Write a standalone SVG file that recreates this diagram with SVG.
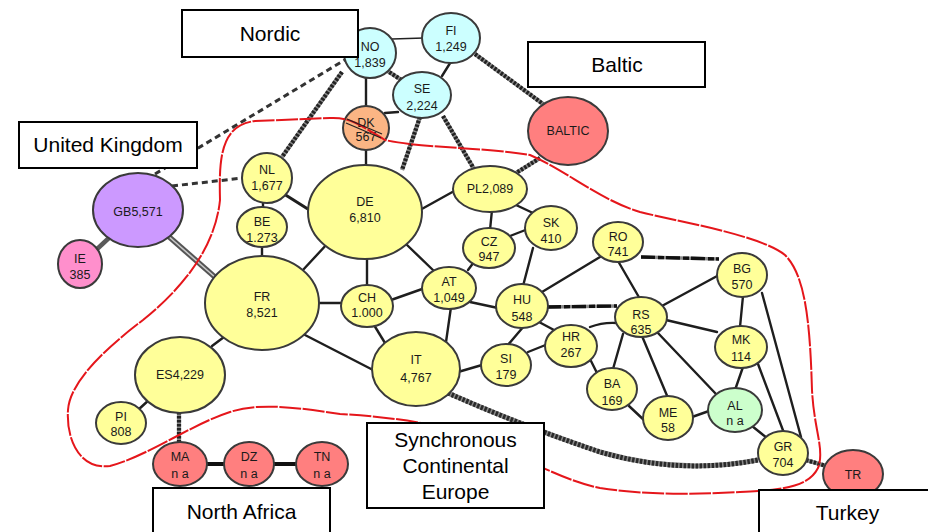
<svg xmlns="http://www.w3.org/2000/svg" xmlns:xlink="http://www.w3.org/1999/xlink" width="928" height="532" viewBox="0 0 928 532">
<style>
.ac{stroke:#1e1e1e;stroke-width:2.4;fill:none;stroke-linecap:round}
.thin{stroke:#222;stroke-width:1.6;fill:none}
.dcb{stroke:#8a8a8a;stroke-width:4.2;fill:none}
.dct{stroke:#222;stroke-width:4.2;fill:none;stroke-dasharray:2.5 1.5}
.dcb2{stroke:#8a8a8a;stroke-width:3.4;fill:none}
.dct2{stroke:#111;stroke-width:3.4;fill:none;stroke-dasharray:14 3 6 2}
.dcb3{stroke:#8a8a8a;stroke-width:5;fill:none}
.dct3{stroke:#2a2a2a;stroke-width:5;fill:none;stroke-dasharray:2.5 1.5}
.bold{stroke:#111;stroke-width:4;fill:none}
.gray{stroke:#5a5a5a;stroke-width:4.5;fill:none}
.dblo{stroke:#555;stroke-width:5.5;fill:none}
.dbli{stroke:#c8c8c8;stroke-width:1.6;fill:none}
.dash{stroke:#333;stroke-width:3;fill:none;stroke-dasharray:6 4}
.n{stroke:#3a3a3a;stroke-width:2}
.y{fill:#ffff99}.c{fill:#ccffff}.o{fill:#fbb584}.r{fill:#ff7f7f}.p{fill:#cc99ff}.k{fill:#ff8fcc}.g{fill:#ccffcc}
.t{font-family:"Liberation Sans",Arial,sans-serif;font-size:12.5px;fill:#1a1a1a;text-anchor:middle}
.box{fill:#fff;stroke:#000;stroke-width:2}
.bt{font-family:"Liberation Sans",Arial,sans-serif;font-size:21px;fill:#000;text-anchor:middle}
.sce{fill:none;stroke:#e5161b;stroke-width:2;stroke-dasharray:22 1.5}
</style>
<defs>
<g id="dcl">
<line x1="342" y1="72" x2="282" y2="157"/>
<line x1="386" y1="70" x2="403" y2="81"/>
<line x1="475" y1="54" x2="543" y2="104"/>
<line x1="420" y1="117" x2="402" y2="170"/>
<line x1="443" y1="116" x2="474" y2="169"/>
<line x1="540" y1="158" x2="516" y2="173"/>
<line x1="179" y1="412" x2="179" y2="443"/>
<line x1="806" y1="460" x2="826" y2="466"/>
</g>
<g id="dcl2">
<line x1="547" y1="307" x2="617" y2="306"/>
<line x1="641" y1="257" x2="719" y2="259"/>
</g>
<path id="dcl3" d="M448,393 Q520,425 600,452 Q680,475 758,460"/>
</defs>
<g id="connectors">
<line class="thin" x1="392" y1="39" x2="424" y2="38"/>
<line class="ac" x1="452" y1="60" x2="442" y2="76"/>
<line class="ac" x1="366" y1="76" x2="366" y2="108"/>
<line class="ac" x1="385" y1="113" x2="398" y2="112"/>
<line class="ac" x1="366" y1="148" x2="366" y2="167"/>
<line class="ac" x1="263" y1="202" x2="263" y2="208"/>
<line class="ac" x1="262" y1="245" x2="262" y2="258"/>
<line class="ac" x1="284" y1="194" x2="311" y2="211" style="stroke-width:3"/>
<line class="ac" x1="328" y1="243" x2="302" y2="271"/>
<line class="ac" x1="367" y1="257" x2="367" y2="287"/>
<line class="ac" x1="406" y1="244" x2="435" y2="272"/>
<line class="ac" x1="420" y1="210" x2="456" y2="190"/>
<line class="ac" x1="492" y1="210" x2="490" y2="230"/>
<line class="ac" x1="516" y1="205" x2="533" y2="213"/>
<line class="ac" x1="510" y1="236" x2="528" y2="229"/>
<line class="ac" x1="474" y1="262" x2="468" y2="270"/>
<line class="ac" x1="533" y1="248" x2="523" y2="286"/>
<line class="ac" x1="470" y1="302" x2="498" y2="308"/>
<line class="ac" x1="451" y1="307" x2="446" y2="342"/>
<line class="ac" x1="391" y1="300" x2="425" y2="288"/>
<line class="ac" x1="374" y1="325" x2="385" y2="343"/>
<line class="ac" x1="318" y1="303" x2="343" y2="303"/>
<line class="ac" x1="305" y1="335" x2="375" y2="371"/>
<line class="ac" x1="212" y1="346" x2="224" y2="337"/>
<line class="ac" x1="138" y1="410" x2="150" y2="399"/>
<line class="ac" x1="458" y1="372" x2="482" y2="365"/>
<line class="ac" x1="507" y1="346" x2="524" y2="326"/>
<line class="ac" x1="528" y1="352" x2="548" y2="344"/>
<line class="ac" x1="539" y1="322" x2="554" y2="330"/>
<line class="ac" x1="542" y1="292" x2="600" y2="257"/>
<path class="ac" d="M590,327 Q603,322 617,323"/>
<line class="ac" x1="591" y1="361" x2="597" y2="373"/>
<line class="ac" x1="623" y1="334" x2="613" y2="369"/>
<line class="ac" x1="642" y1="336" x2="668" y2="398"/>
<line class="ac" x1="657" y1="332" x2="716" y2="394"/>
<line class="ac" x1="618" y1="261" x2="640" y2="299"/>
<line class="ac" x1="660" y1="307" x2="719" y2="275"/>
<line class="ac" x1="666" y1="320" x2="717" y2="332"/>
<line class="ac" x1="743" y1="296" x2="740" y2="327"/>
<line class="ac" x1="762" y1="293" x2="801" y2="437"/>
<line class="ac" x1="758" y1="364" x2="784" y2="433"/>
<line class="ac" x1="743" y1="367" x2="735" y2="390"/>
<line class="ac" x1="752" y1="426" x2="767" y2="438"/>
<line class="ac" x1="692" y1="417" x2="709" y2="411"/>
<line class="ac" x1="629" y1="406" x2="645" y2="421"/>
<use xlink:href="#dcl" class="dcb"/>
<use xlink:href="#dcl" class="dct"/>
<use xlink:href="#dcl2" class="dcb2"/>
<use xlink:href="#dcl2" class="dct2"/>
<use xlink:href="#dcl3" class="dcb3"/>
<use xlink:href="#dcl3" class="dct3"/>
<line class="bold" x1="205" y1="464" x2="226" y2="464"/>
<line class="bold" x1="272" y1="464" x2="298" y2="464"/>
<line class="gray" x1="110" y1="237" x2="96" y2="250"/>
<line class="dblo" x1="167" y1="235" x2="216" y2="278"/>
<line class="dbli" x1="167" y1="235" x2="216" y2="278"/>
<line class="dash" x1="155" y1="174" x2="348" y2="58"/>
<line class="dash" x1="172" y1="186" x2="243" y2="178"/>
</g>
<g id="node-NO"><ellipse class="n c" cx="370" cy="53" rx="26" ry="25"/><text class="t" x="370" y="51">NO</text><text class="t" x="370" y="67">1,839</text></g>
<g id="node-FI"><ellipse class="n c" cx="451" cy="38" rx="29" ry="25"/><text class="t" x="451" y="35">FI</text><text class="t" x="451" y="51">1,249</text></g>
<g id="node-SE"><ellipse class="n c" cx="422" cy="95" rx="29" ry="23"/><text class="t" x="422" y="93">SE</text><text class="t" x="422" y="110">2,224</text></g>
<g id="node-DK"><ellipse class="n o" cx="366" cy="128" rx="23" ry="22"/><text class="t" x="366" y="127">DK</text><text class="t" x="366" y="141">567</text></g>
<g id="node-BALTIC"><ellipse class="n r" cx="568" cy="131" rx="40" ry="34"/><text class="t" x="568" y="135">BALTIC</text></g>
<g id="node-NL"><ellipse class="n y" cx="267" cy="178" rx="25" ry="25"/><text class="t" x="267" y="174">NL</text><text class="t" x="267" y="190">1,677</text></g>
<g id="node-BE"><ellipse class="n y" cx="262" cy="227" rx="25" ry="20"/><text class="t" x="262" y="226">BE</text><text class="t" x="262" y="242">1.273</text></g>
<g id="node-DE"><ellipse class="n y" cx="365" cy="212" rx="57" ry="47"/><text class="t" x="365" y="206">DE</text><text class="t" x="365" y="222">6,810</text></g>
<g id="node-PL"><ellipse class="n y" cx="490" cy="189" rx="37" ry="23"/><text class="t" x="490" y="193">PL2,089</text></g>
<g id="node-CZ"><ellipse class="n y" cx="489" cy="248" rx="26" ry="20"/><text class="t" x="489" y="246">CZ</text><text class="t" x="489" y="261">947</text></g>
<g id="node-SK"><ellipse class="n y" cx="551" cy="228" rx="26" ry="22"/><text class="t" x="551" y="227">SK</text><text class="t" x="551" y="243">410</text></g>
<g id="node-RO"><ellipse class="n y" cx="618" cy="242" rx="25" ry="20"/><text class="t" x="618" y="241">RO</text><text class="t" x="618" y="256">741</text></g>
<g id="node-AT"><ellipse class="n y" cx="449" cy="288" rx="27" ry="21"/><text class="t" x="449" y="286">AT</text><text class="t" x="449" y="302">1,049</text></g>
<g id="node-HU"><ellipse class="n y" cx="522" cy="306" rx="26" ry="22"/><text class="t" x="522" y="304">HU</text><text class="t" x="522" y="321">548</text></g>
<g id="node-HR"><ellipse class="n y" cx="571" cy="346" rx="26" ry="21"/><text class="t" x="571" y="341">HR</text><text class="t" x="571" y="357">267</text></g>
<g id="node-SI"><ellipse class="n y" cx="506" cy="365" rx="25" ry="21"/><text class="t" x="506" y="363">SI</text><text class="t" x="506" y="379">179</text></g>
<g id="node-RS"><ellipse class="n y" cx="641" cy="317" rx="26" ry="20"/><text class="t" x="641" y="319">RS</text><text class="t" x="641" y="334">635</text></g>
<g id="node-BG"><ellipse class="n y" cx="742" cy="275" rx="25" ry="22"/><text class="t" x="742" y="273">BG</text><text class="t" x="742" y="289">570</text></g>
<g id="node-MK"><ellipse class="n y" cx="741" cy="347" rx="26" ry="21"/><text class="t" x="741" y="344">MK</text><text class="t" x="741" y="361">114</text></g>
<g id="node-BA"><ellipse class="n y" cx="612" cy="389" rx="25" ry="21"/><text class="t" x="612" y="388">BA</text><text class="t" x="612" y="405">169</text></g>
<g id="node-ME"><ellipse class="n y" cx="668" cy="418" rx="25" ry="22"/><text class="t" x="668" y="417">ME</text><text class="t" x="668" y="432">58</text></g>
<g id="node-AL"><ellipse class="n g" cx="735" cy="410" rx="27" ry="22"/><text class="t" x="735" y="410">AL</text><text class="t" x="735" y="425">n a</text></g>
<g id="node-GR"><ellipse class="n y" cx="783" cy="453" rx="25" ry="22"/><text class="t" x="783" y="451">GR</text><text class="t" x="783" y="467">704</text></g>
<g id="node-TR"><ellipse class="n r" cx="853" cy="474" rx="30" ry="24"/><text class="t" x="853" y="479">TR</text></g>
<g id="node-CH"><ellipse class="n y" cx="367" cy="306" rx="26" ry="21"/><text class="t" x="367" y="302">CH</text><text class="t" x="367" y="317">1.000</text></g>
<g id="node-IT"><ellipse class="n y" cx="416" cy="369" rx="44" ry="37"/><text class="t" x="416" y="364">IT</text><text class="t" x="416" y="382">4,767</text></g>
<g id="node-FR"><ellipse class="n y" cx="262" cy="303" rx="57" ry="47"/><text class="t" x="262" y="301">FR</text><text class="t" x="262" y="317">8,521</text></g>
<g id="node-ES"><ellipse class="n y" cx="180" cy="375" rx="45" ry="38"/><text class="t" x="180" y="379">ES4,229</text></g>
<g id="node-PI"><ellipse class="n y" cx="121" cy="423" rx="25" ry="21"/><text class="t" x="121" y="421">PI</text><text class="t" x="121" y="436">808</text></g>
<g id="node-MA"><ellipse class="n r" cx="180" cy="464" rx="27" ry="22"/><text class="t" x="180" y="461">MA</text><text class="t" x="180" y="478">n a</text></g>
<g id="node-DZ"><ellipse class="n r" cx="249" cy="464" rx="25" ry="22"/><text class="t" x="249" y="461">DZ</text><text class="t" x="249" y="478">n a</text></g>
<g id="node-TN"><ellipse class="n r" cx="322" cy="464" rx="26" ry="22"/><text class="t" x="322" y="461">TN</text><text class="t" x="322" y="478">n a</text></g>
<g id="node-GB"><ellipse class="n p" cx="138" cy="210" rx="45" ry="37"/><text class="t" x="138" y="216">GB5,571</text></g>
<g id="node-IE"><ellipse class="n k" cx="80" cy="264" rx="22" ry="24"/><text class="t" x="80" y="263">IE</text><text class="t" x="80" y="279">385</text></g>
<g id="region-SCE">
<path class="sce" d="M220,200 C219,160 220,125 255,121 L330,118 C350,117 360,125 385,140 C420,148 480,147 530,155 C565,170 600,200 640,212 C680,222 760,235 785,255 C805,275 810,320 812,390 C814,430 825,450 818,468 C808,488 780,490 740,492 C700,494 650,496 600,488 C560,480 520,455 470,435 C430,422 380,416 340,414 C300,408 260,402 230,412 C190,425 150,455 110,466 C80,470 66,440 68,410 C70,380 110,345 143,320 C180,290 215,250 220,200 Z"/>
<line x1="347" y1="119" x2="382" y2="134" stroke="#222" stroke-width="1.3"/>
<line x1="346" y1="123" x2="381" y2="138" stroke="#222" stroke-width="1.3"/>
</g>
<g id="label-Nordic"><rect class="box" x="182" y="10" width="176" height="47"/><text class="bt" x="270" y="41">Nordic</text></g>
<g id="label-UK"><rect class="box" x="19" y="122" width="178" height="46"/><text class="bt" x="108" y="152">United Kingdom</text></g>
<g id="label-Baltic"><rect class="box" x="528" y="42" width="177" height="45"/><text class="bt" x="617" y="72">Baltic</text></g>
<g id="label-SCE"><rect class="box" x="367" y="423" width="177" height="85"/><text class="bt" x="455.5" y="447">Synchronous</text><text class="bt" x="455.5" y="473">Continental</text><text class="bt" x="455.5" y="499">Europe</text></g>
<g id="label-NorthAfrica"><rect class="box" x="153" y="488" width="177" height="60"/><text class="bt" x="241.5" y="519">North Africa</text></g>
<g id="label-Turkey"><rect class="box" x="759" y="490" width="180" height="60"/><text class="bt" x="847.5" y="520">Turkey</text></g>
</svg>
